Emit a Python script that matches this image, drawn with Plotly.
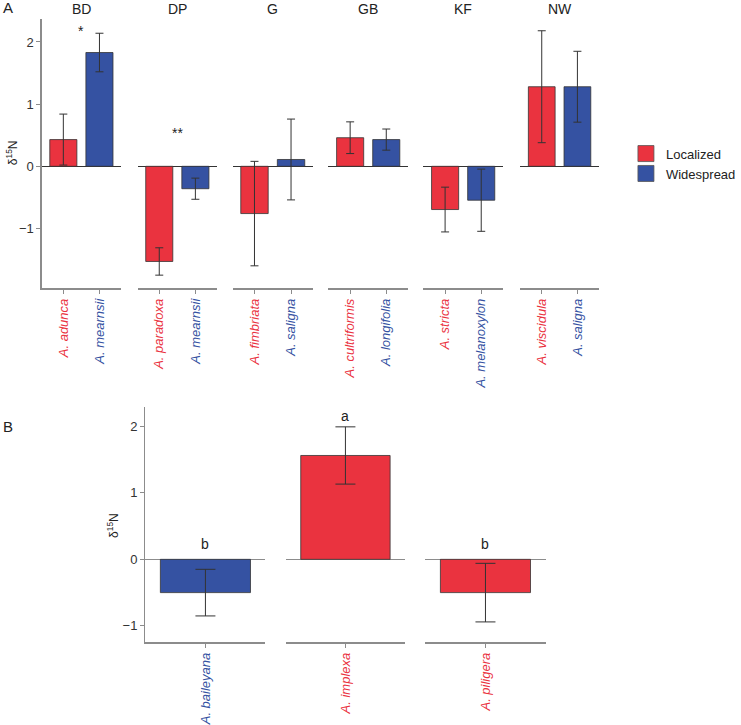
import plotly.graph_objects as go

# ---------------- data ----------------
regions = ["BD", "DP", "G", "GB", "KF", "NW"]
species_local = ["A. adunca", "A. paradoxa", "A. fimbriata", "A. cultriformis", "A. stricta", "A. viscidula"]
species_wide = ["A. mearnsii", "A. mearnsii", "A. saligna", "A. longifolia", "A. melanoxylon", "A. saligna"]
local_mean = [0.43, -1.53, -0.76, 0.46, -0.695, 1.28]
local_se = [0.41, 0.22, 0.84, 0.255, 0.36, 0.90]
wide_mean = [1.83, -0.36, 0.11, 0.43, -0.545, 1.28]
wide_se = [0.31, 0.17, 0.65, 0.17, 0.50, 0.57]
sig_text = ["*", "**", "", "", "", ""]
sig_y = [2.17, 0.53, 0, 0, 0, 0]

species_b = ["A. baileyana", "A. implexa", "A. piligera"]
group_b = ["Widespread", "Localized", "Localized"]
mean_b = [-0.50, 1.56, -0.50]
se_b = [0.35, 0.43, 0.44]
letters_b = ["b", "a", "b"]
letter_y = [0.23, 2.15, 0.23]

y_ticks = [-1, 0, 1, 2]

# ---------------- style ----------------
RED = "#EA333F"
BLUE = "#3552A2"
COLORS = {"Localized": RED, "Widespread": BLUE}
AXC = "#8c8c8c"
TXT = "#222222"
FONT = "Liberation Sans, Arial, Helvetica, sans-serif"
W, H = 741, 725

def px_x(a, b):
    return [a / W, b / W]

def px_y(top, bottom):
    return [1 - bottom / H, 1 - top / H]

panelA_px = [(43, 125), (142, 224), (240, 323), (339, 421), (437, 519), (537, 618)]
panelB_px = [(150, 274), (295, 418), (439, 563)]

def lab(name, col):
    return "<span style='color:%s'><i>%s</i></span>" % (col, name)

fig = go.Figure()
layout = dict(
    width=W, height=H, autosize=False,
    margin=dict(l=0, r=0, t=0, b=0),
    paper_bgcolor="white", plot_bgcolor="white",
    font=dict(family=FONT, size=13, color=TXT),
    showlegend=True,
    bargap=0,
)

annotations = []

# ---------- Panel A ----------
for i, reg in enumerate(regions):
    ax = "x" if i == 0 else "x%d" % (i + 1)
    cats = [species_local[i] + " ", species_wide[i]]
    fig.add_trace(go.Bar(
        x=cats, y=[local_mean[i], wide_mean[i]],
        xaxis=ax, yaxis="y",
        width=0.75,
        marker=dict(color=[RED, BLUE], line=dict(color="#333333", width=0.8)),
        error_y=dict(type="data", array=[local_se[i], wide_se[i]], visible=True,
                     color="#333333", thickness=1, width=4),
        showlegend=False, hoverinfo="skip",
    ))
    key = "xaxis" if i == 0 else "xaxis%d" % (i + 1)
    a, b = panelA_px[i]
    layout[key] = dict(
        domain=px_x(a, b), anchor="y", type="category",
        range=[-0.6, 1.6], showline=True, linecolor=AXC, linewidth=1.3,
        ticks="outside", ticklen=4, tickcolor=AXC, tickwidth=1,
        tickangle=-90, tickvals=cats,
        ticktext=[lab(species_local[i], RED), lab(species_wide[i], BLUE)],
        tickfont=dict(size=13), showgrid=False, zeroline=False, fixedrange=True,
    )
    annotations.append(dict(text=reg, x=(a + b) / 2 / W, y=1 - 9 / H, xref="paper", yref="paper",
                            showarrow=False, xanchor="center", yanchor="middle",
                            font=dict(size=14, color=TXT)))
    if sig_text[i]:
        annotations.append(dict(text=sig_text[i], x=0.5, y=sig_y[i], xref=ax, yref="y",
                                showarrow=False, xanchor="center", yanchor="middle",
                                font=dict(size=14, color=TXT)))

layout["yaxis"] = dict(
    domain=px_y(19, 289), anchor="x", range=[-1.96, 2.37],
    showline=True, linecolor=AXC, linewidth=1.3,
    ticks="outside", ticklen=4, tickcolor=AXC, tickvals=y_ticks,
    tickfont=dict(size=13, color="#333333"),
    showgrid=False, zeroline=True, zerolinecolor="#333333", zerolinewidth=1,
    fixedrange=True,
)

# ---------- Panel B ----------
for j, sp in enumerate(species_b):
    ax = "x%d" % (j + 7)
    col = COLORS[group_b[j]]
    fig.add_trace(go.Bar(
        x=[sp], y=[mean_b[j]], xaxis=ax, yaxis="y2", width=0.9,
        marker=dict(color=col, line=dict(color="#333333", width=0.8)),
        error_y=dict(type="data", array=[se_b[j]], visible=True,
                     color="#333333", thickness=1, width=10),
        showlegend=False, hoverinfo="skip",
    ))
    a, b = panelB_px[j]
    layout["xaxis%d" % (j + 7)] = dict(
        domain=px_x(a, b), anchor="y2", type="category",
        range=[-0.6, 0.6], showline=True, linecolor=AXC, linewidth=1.3,
        ticks="outside", ticklen=4, tickcolor=AXC, tickwidth=1,
        tickangle=-90, tickvals=[sp], ticktext=[lab(sp, col)],
        tickfont=dict(size=13), showgrid=False, zeroline=False, fixedrange=True,
    )
    annotations.append(dict(text=letters_b[j], x=0, y=letter_y[j], xref=ax, yref="y2",
                            showarrow=False, xanchor="center", yanchor="middle",
                            font=dict(size=14, color=TXT)))

layout["yaxis2"] = dict(
    domain=px_y(408, 644), anchor="x7", range=[-1.245, 2.29],
    showline=True, linecolor=AXC, linewidth=1.3,
    ticks="outside", ticklen=4, tickcolor=AXC, tickvals=y_ticks,
    tickfont=dict(size=13, color="#333333"),
    showgrid=False, zeroline=True, zerolinecolor=AXC, zerolinewidth=1.3,
    fixedrange=True,
)

# legend entries
for name, col in [("Localized", RED), ("Widespread", BLUE)]:
    fig.add_trace(go.Scatter(
        x=[None], y=[None], xaxis="x", yaxis="y", mode="markers", name=name,
        marker=dict(symbol="square", size=16, color=col, line=dict(color="#555555", width=0.8)),
        showlegend=True,
    ))

layout["legend"] = dict(
    x=646 / W, y=1 - 139 / H, xanchor="left", yanchor="top",
    font=dict(size=13, color=TXT), tracegroupgap=0, itemsizing="trace",
    bgcolor="rgba(0,0,0,0)",
)

# panel letters and axis titles
annotations += [
    dict(text="A", x=1 / W, y=1 - 8 / H, xref="paper", yref="paper", showarrow=False,
         xanchor="left", yanchor="middle", font=dict(size=15, color=TXT)),
    dict(text="B", x=1 / W, y=1 - 428 / H, xref="paper", yref="paper", showarrow=False,
         xanchor="left", yanchor="middle", font=dict(size=15, color=TXT)),
    dict(text="δ<sup>15</sup>N", x=12 / W, y=1 - 153 / H, xref="paper", yref="paper",
         showarrow=False, textangle=-90, xanchor="center", yanchor="middle",
         font=dict(size=12, color=TXT)),
    dict(text="δ<sup>15</sup>N", x=116 / W, y=1 - 527 / H, xref="paper", yref="paper",
         showarrow=False, textangle=-90, xanchor="center", yanchor="middle",
         font=dict(size=12, color=TXT)),
]
layout["annotations"] = annotations

fig.update_layout(**layout)
fig.write_html(
    "out.html",
    config={"displayModeBar": False, "staticPlot": True},
    post_script="document.body.style.margin='0px'; document.body.style.overflow='hidden';",
)
